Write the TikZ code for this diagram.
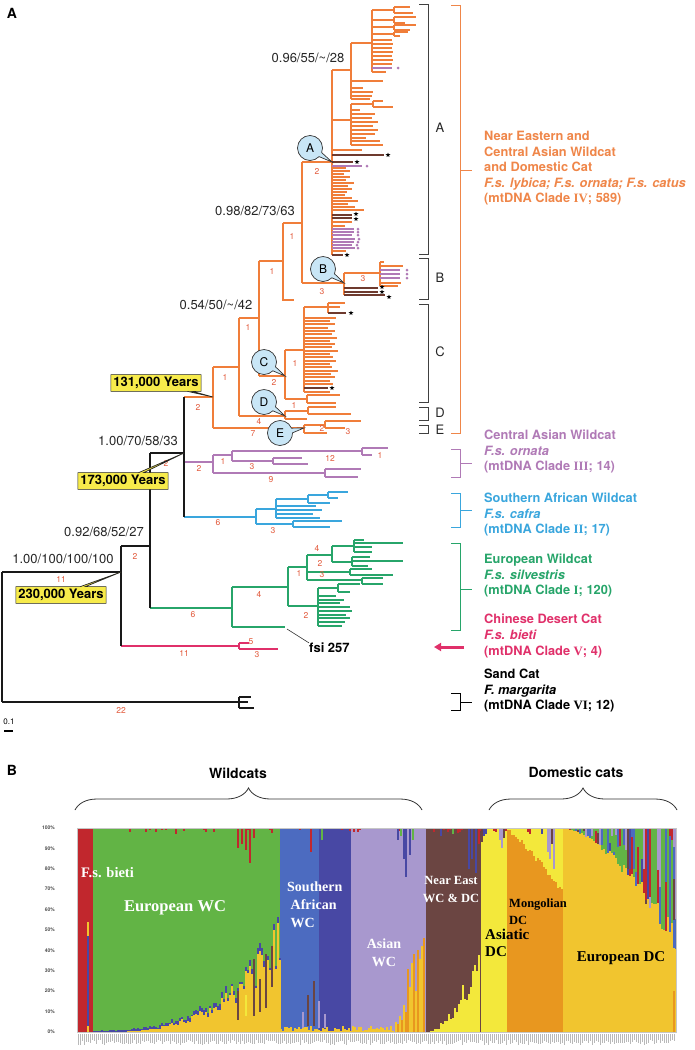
\documentclass[tikz,border=0pt]{standalone}
\usepackage{fontspec}
\setmainfont{TeX Gyre Heros}
\newfontfamily\tnr{Liberation Serif}
\usetikzlibrary{shapes.callouts,decorations.pathreplacing,arrows.meta}
\definecolor{cOr}{HTML}{F07E3A}
\definecolor{cOrT}{HTML}{EF8649}
\definecolor{cPu}{HTML}{B07AB6}
\definecolor{cBl}{HTML}{3AA6DD}
\definecolor{cGr}{HTML}{27A56A}
\definecolor{cPk}{HTML}{E0306A}
\definecolor{cDk}{HTML}{6E3A2E}
\definecolor{cNum}{HTML}{E25A3C}
\definecolor{cCirc}{HTML}{C9E6F6}
\definecolor{cYbox}{HTML}{F7EB4B}
\definecolor{cRed}{HTML}{C1272D}
\definecolor{cGrn}{HTML}{62B445}
\definecolor{cLB}{HTML}{4C6BC0}
\definecolor{cDB}{HTML}{4848A4}
\definecolor{cLav}{HTML}{A898CE}
\definecolor{cBrn}{HTML}{6B4542}
\definecolor{cLY}{HTML}{F3E83B}
\definecolor{cOrg}{HTML}{E8971F}
\definecolor{cY}{HTML}{F1C52F}
\newcommand\bseg[4]{\pgfmathsetmacro\yaa{1032-2.04*(#2)}\pgfmathsetmacro\ybb{1032-2.04*(#3)}\fill[fill=#4] (#1,\yaa) rectangle ({#1+2.05},\ybb);}
\newcommand\stard[2]{\fill[black, shift={(#1,#2)}] (270:2.5) -- (306:1) -- (342:2.5) -- (18:1) -- (54:2.5) -- (90:1) -- (126:2.5) -- (162:1) -- (198:2.5) -- (234:1) -- cycle;}
\pgfmathdeclarerandomlist{topc}{{cGrn}{cGrn}{cGrn}{cLB}{cDB}{cRed}{cLav}{cBrn}{cGrn}}
\tikzset{
  or/.style={draw=cOr, line width=1.1pt},
  pu/.style={draw=cPu, line width=1.1pt},
  bl/.style={draw=cBl, line width=1.1pt},
  gr/.style={draw=cGr, line width=1.1pt},
  pk/.style={draw=cPk, line width=1.1pt},
  dk/.style={draw=cDk, line width=1.1pt},
  bk/.style={draw=black!90, line width=1.8pt},
  brk/.style={draw=black!75, line width=1pt},
  num/.style={text=cNum, font=\fontsize{8.5}{8.5}\selectfont, inner sep=0},
  sup/.style={text=black!85, font=\fontsize{13}{13}\selectfont, inner sep=0},
  lbl/.style={text=black!85, font=\fontsize{13}{13}\selectfont, inner sep=0},
  circ/.style={ellipse callout, fill=cCirc, draw=black!80, line width=0.7pt, minimum width=25pt, minimum height=25pt, inner sep=0, callout pointer arc=22, font=\fontsize{12}{12}\selectfont},
  yrs/.style={rectangle callout, fill=cYbox, draw=black!85, line width=0.7pt, callout pointer width=5pt, inner sep=2.5pt, font=\bfseries\fontsize{13}{13}\selectfont},
  txt/.style={anchor=north west, align=left, inner sep=0, font=\bfseries\fontsize{12.8}{15.5}\selectfont},
  chl/.style={inner sep=0, align=left, font=\tnr\bfseries},
  ax/.style={inner sep=0, text=black!70, font=\bfseries\fontsize{5}{5}\selectfont}
}
\begin{document}
\begin{tikzpicture}[x=1pt,y=-1pt]
\useasboundingbox (0,0) rectangle (694,1050);
\pgfmathsetseed{4}
% ---------- panel letters
\node[inner sep=0, font=\bfseries\fontsize{14}{14}\selectfont] (pA) at (12,13) {A};
\node[inner sep=0, font=\bfseries\fontsize{14}{14}\selectfont] (pB) at (12,770) {B};
% ---------- key coordinates
\coordinate (n131) at (213,397);
\coordinate (n173) at (184,453);
\coordinate (n230) at (121,572);
\coordinate (nA) at (332,162);
\coordinate (nB) at (344,283);
\coordinate (nC) at (285,376);
\coordinate (nD) at (285,416);
\coordinate (nE) at (304,428);
% ---------- orange backbone
\draw[or] (184,397) -- (213,397);
\draw[or] (213,367) -- (213,428);
\draw[or] (213,367) -- (239,367);
\draw[or] (239,318) -- (239,416);
\draw[or] (239,318) -- (259,318);
\draw[or] (259,261) -- (259,376);
\draw[or] (259,261) -- (283,261);
\draw[or] (283,223) -- (283,300) -- (294,300);
\draw[or] (283,223) -- (302,223);
\draw[or] (302,162) -- (302,283);
\draw[or] (302,162) -- (332,162);
\draw[or] (302,283) -- (344,283);
\draw[or] (259,376) -- (285,376);
\draw[or] (239,416) -- (285,416);
\draw[or] (213,428) -- (304,428);
% clade A
\draw[or] (332,70) -- (332,255);
\draw[or] (332,70) -- (351,70);
\draw[or] (351,43) -- (351,99);
\draw[or] (351,43) -- (372,43);
\draw[or] (372,10) -- (372,72);
\foreach \yy/\aa/\bb/\la/\lb in {10/7/13/410/413, 20/17/23/416/405, 27/25/30/416/410, 34/32/36/408/400}{
  \draw[or] (372,\yy) -- (394,\yy);
  \draw[or] (394,\aa) -- (394,\bb);
  \draw[or] (394,\aa) -- (\la,\aa);
  \draw[or] (394,\bb) -- (\lb,\bb);
}
\foreach \yy/\ll in {40/392,44/393,48/392,52/393,56/392,60/393,64/392,72/386}{\draw[or] (372,\yy) -- (\ll,\yy);}
\draw[pu] (372,68) -- (392,68);
\foreach \yy/\ll in {81/383,88/363,92/373,96/372,99/370}{\draw[or] (351,\yy) -- (\ll,\yy);}
\draw[or] (332,120) -- (351,120);
\draw[or] (351,104) -- (351,145);
\draw[or] (351,104) -- (373,104);
\draw[or] (373,101) -- (373,107);
\draw[or] (373,101) -- (383,101);
\draw[or] (373,107) -- (393,107);
\foreach \yy/\ll in {110/360,114/375,118/372,122/378,126/373,130/378,134/375,138/366,141/380,145/383}{\draw[or] (351,\yy) -- (\ll,\yy);}
\draw[or] (332,150) -- (362,150);
\draw[dk] (332,155) -- (384,155);
\foreach \yy/\ll in {168/346,171/350,174/344,177/350,180/346,183/354,186/348,189/352,192/347,195/345,198/352,201/358,204/348,207/355,210/364,222/352,226/345,251/346}{\draw[or] (332,\yy) -- (\ll,\yy);}
\foreach \yy/\ll in {162/353,215/352,218/352,255/343}{\draw[dk] (332,\yy) -- (\ll,\yy);}
\foreach \yy/\ll in {166/362,229/354,232/354,235/352,239/355,242/354,245/352,248/355}{\draw[pu] (332,\yy) -- (\ll,\yy);}
\foreach \xx/\yy in {357/162,388/155,356/214,356/219,347/255}{\stard{\xx}{\yy}}
\foreach \xx/\yy in {398/68,367/166,358/229,358/232,358/235,359/239,358/242,357/245,358/248}{\fill[cPu] (\xx,\yy) circle[radius=1.5pt];}
% clade B
\draw[or] (344,273) -- (344,295);
\draw[or] (344,273) -- (380,273);
\draw[or] (380,262) -- (380,286);
\draw[or] (380,262) -- (384,262);
\foreach \yy/\ll in {266/403,283/401,286/398}{\draw[or] (380,\yy) -- (\ll,\yy);}
\foreach \yy in {270,274,278}{\draw[pu] (380,\yy) -- (400,\yy); \fill[cPu] (407,\yy) circle[radius=1.5pt];}
\draw[dk] (344,288) -- (378,288);
\draw[dk] (344,292) -- (378,292);
\draw[dk] (344,295) -- (385,295);
\foreach \xx/\yy in {382/287,382/292,389/297}{\stard{\xx}{\yy}}
% clade C
\draw[or] (285,350) -- (285,399);
\draw[or] (285,350) -- (304,350);
\draw[or] (304,307) -- (304,392);
\draw[or] (304,307) -- (328,307);
\draw[or] (328,303) -- (328,313);
\draw[or] (328,303) -- (345,303);
\draw[or] (328,307) -- (340,307);
\draw[dk] (328,313) -- (346,313);
\stard{351}{313}
\foreach \yy/\ll in {318/336,321/330,324/335,328/328,331/335,334/332,338/337,341/330,344/335,347/332,351/338,354/330,357/333,361/336,364/330,367/332,371/338,374/331,377/335,381/330,384/333,392/330}{\draw[or] (304,\yy) -- (\ll,\yy);}
\draw[dk] (304,388) -- (328,388);
\stard{332}{388}
\draw[or] (285,399) -- (307,399);
\draw[or] (307,395) -- (307,403);
\draw[or] (307,395) -- (340,395);
\draw[or] (307,403) -- (336,403);
% clade D
\draw[or] (285,411) -- (285,419);
\draw[or] (285,411) -- (308,411);
\draw[or] (308,407) -- (308,414);
\draw[or] (308,407) -- (336,407);
\draw[or] (308,414) -- (351,414);
\draw[or] (285,419) -- (307,419);
% clade E
\draw[or] (304,425) -- (304,433);
\draw[or] (304,425) -- (325,425);
\draw[or] (325,421) -- (325,428);
\draw[or] (325,421) -- (361,421);
\draw[or] (325,428) -- (345,428);
\draw[or] (304,433) -- (327,433);
% ---------- purple clade
\draw[pu] (184,462) -- (213,462);
\draw[pu] (213,455) -- (213,473);
\draw[pu] (213,455) -- (232,455);
\draw[pu] (232,451) -- (232,461);
\draw[pu] (232,451) -- (362,451);
\draw[pu] (362,448) -- (362,455);
\draw[pu] (362,448) -- (388,448);
\draw[pu] (362,455) -- (372,455);
\draw[pu] (232,461) -- (273,461);
\draw[pu] (273,458) -- (273,464);
\draw[pu] (273,458) -- (302,458);
\draw[pu] (273,464) -- (308,464);
\draw[pu] (213,473) -- (325,473);
\draw[pu] (325,469) -- (325,477);
\draw[pu] (325,469) -- (361,469);
\draw[pu] (325,477) -- (358,477);
% ---------- blue clade
\draw[bl] (184,517) -- (256,517);
\draw[bl] (256,509) -- (256,524);
\draw[bl] (256,509) -- (276,509);
\draw[bl] (276,499) -- (276,518);
\draw[bl] (276,499) -- (308,499);
\draw[bl] (308,495) -- (308,503);
\draw[bl] (308,495) -- (328,495);
\draw[bl] (328,492) -- (328,498);
\draw[bl] (328,492) -- (348,492);
\draw[bl] (328,498) -- (338,498);
\draw[bl] (308,503) -- (330,503);
\foreach \yy/\ll in {506/316,510/322,514/313,518/320}{\draw[bl] (276,\yy) -- (\ll,\yy);}
\draw[bl] (256,524) -- (293,524);
\draw[bl] (293,521) -- (293,527);
\draw[bl] (293,521) -- (342,521);
\draw[bl] (293,527) -- (330,527);
% ---------- green clade
\draw[gr] (150,608) -- (232,608);
\draw[gr] (232,587) -- (232,627);
\draw[gr] (232,587) -- (288,587);
\draw[gr] (288,567) -- (288,606);
\draw[gr] (288,567) -- (307,567);
\draw[gr] (307,555) -- (307,580);
\draw[gr] (307,555) -- (332,555);
\draw[gr] (332,546) -- (332,562);
\draw[gr] (332,546) -- (354,546);
\draw[gr] (354,540) -- (354,552);
\foreach \yy/\ll in {540/364,543/403,547/372,552/372}{\draw[gr] (354,\yy) -- (\ll,\yy);}
\draw[gr] (332,562) -- (352,562);
\draw[gr] (352,557) -- (352,566);
\foreach \yy/\ll in {557/370,561/403,566/368}{\draw[gr] (352,\yy) -- (\ll,\yy);}
\draw[gr] (307,572) -- (350,572);
\draw[gr] (350,569) -- (350,575);
\draw[gr] (350,569) -- (372,569);
\draw[gr] (350,575) -- (393,575);
\draw[gr] (307,580) -- (362,580);
\draw[gr] (362,578) -- (362,584);
\draw[gr] (362,578) -- (383,578);
\draw[gr] (362,584) -- (383,584);
\draw[gr] (288,606) -- (318,606);
\draw[gr] (318,588) -- (318,626);
\draw[gr] (318,588) -- (338,588);
\draw[gr] (338,584) -- (338,592);
\draw[gr] (338,584) -- (360,584);
\draw[gr] (338,592) -- (350,592);
\foreach \yy/\ll in {596/336,600/344,603/340,607/350,611/352,615/346,618/350,622/345,626/342}{\draw[gr] (318,\yy) -- (\ll,\yy);}
\draw[gr] (232,627) -- (285,627);
\coordinate (fsiT) at (287,629);
\node[inner sep=0, anchor=west, font=\bfseries\fontsize{13}{13}\selectfont] (fsi) at (309,648) {fsi 257};
\draw[black!80, line width=0.6pt] (fsiT) -- (fsi.north west);
% ---------- pink clade
\draw[pk] (121,646) -- (239,646);
\draw[pk] (239,643) -- (239,649);
\draw[pk] (239,643) -- (249,643);
\draw[pk] (239,649) -- (278,649);
% ---------- black backbone
\draw[bk] (184,397) -- (184,517);
\draw[bk] (150,453) -- (184,453);
\draw[bk] (150,453) -- (150,608);
\draw[bk] (121,546) -- (150,546);
\draw[bk] (121,546) -- (121,646);
\draw[bk] (2,572) -- (121,572);
\draw[bk] (2,572) -- (2,702);
\draw[bk] (2,702) -- (239,702);
\draw[bk] (239,697) -- (239,708);
\draw[bk] (239,697) -- (251,697);
\draw[bk] (239,702) -- (248,702);
\draw[bk] (239,708) -- (254,708);
% ---------- support values
\node[sup] (s1) at (308,58) {0.96/55/\textasciitilde/28};
\node[sup] (s2) at (255,211) {0.98/82/73/63};
\node[sup] (s3) at (216,305) {0.54/50/\textasciitilde/42};
\node[sup] (s4) at (138,441) {1.00/70/58/33};
\node[sup] (s5) at (104,532) {0.92/68/52/27};
\node[sup] (s6) at (63,559) {1.00/100/100/100};
% ---------- branch numbers
\foreach \xx/\yy/\tx [count=\i] in {317/171/2, 322/292/3, 363/279/3, 292/236/1, 272/271/1, 248/327/1, 274/382/2, 295/363/1, 294/405/1, 259/421/4, 225/377/1, 253/434/7, 322/428/2, 348/432/3, 198/407/2, 166/463/2, 199/468/2, 223/461/1, 330/458/12, 380/455/1, 252/467/3, 271/480/9, 218/523/6, 273/531/3, 135/556/2, 193/615/6, 259/594/4, 299/573/1, 317/548/4, 320/563/2, 322/575/3, 306/615/2, 184/653/11, 251/642/5, 257/655/3, 61/579/11, 121/710/22}{\node[num] (bn\i) at (\xx,\yy) {\tx};}
% ---------- callouts
\node[circ, callout absolute pointer={(nA)}] (cA) at (310,148) {A};
\node[circ, callout absolute pointer={(nB)}] (cB) at (323,269) {B};
\node[circ, callout absolute pointer={(nC)}] (cC) at (264,362) {C};
\node[circ, callout absolute pointer={(nD)}] (cD) at (264,402) {D};
\node[circ, callout absolute pointer={(nE)}] (cE) at (280,433) {E};
\node[yrs, callout absolute pointer={(n131)}] (y131) at (156,383) {131,000 Years};
\node[yrs, callout absolute pointer={(n173)}] (y173) at (123,481) {173,000 Years};
\node[yrs, callout absolute pointer={(n230)}] (y230) at (61,595) {230,000 Years};
% ---------- scale bar
\node[inner sep=0, font=\fontsize{8}{8}\selectfont] (sbl) at (9,722) {0.1};
\coordinate (sb1) at (4,731); \coordinate (sb2) at (13,731);
\draw[line width=1.3pt] (sb1) -- (sb2);
% ---------- subclade brackets
\foreach \ya/\yb/\tx/\yl in {4/254/A/128, 258/299/B/278, 304/402/C/352, 407/420/D/413, 425/433/E/430}{
  \draw[brk] (419,\ya) -- (428,\ya) -- (428,\yb) -- (419,\yb);
  \node[lbl] (L\tx) at (440,\yl) {\tx};
}
% ---------- clade brackets
\foreach \ya/\yb/\ym/\cc in {5/433/170/cOrT, 449/477/463/cPu, 493/527/510/cBl, 543/630/589/cGr, 693/710/702/black}{
  \draw[draw=\cc, line width=1pt] (451,\ya) -- (460,\ya) -- (460,\yb) -- (451,\yb);
  \draw[draw=\cc, line width=1pt] (460,\ym) -- (472,\ym);
}
\node[txt, text=cOrT] (tOr) at (484,131) {Near Eastern and\\Central Asian Wildcat\\and Domestic Cat\\\textit{F.s. lybica; F.s. ornata; F.s. catus}\\(mtDNA Clade {\tnr IV}; 589)};
\node[txt, text=cPu] (tPu) at (484,430) {Central Asian Wildcat\\\textit{F.s. ornata}\\(mtDNA Clade {\tnr III}; 14)};
\node[txt, text=cBl] (tBl) at (484,493) {Southern African Wildcat\\\textit{F.s. cafra}\\(mtDNA Clade {\tnr II}; 17)};
\node[txt, text=cGr] (tGr) at (484,554) {European Wildcat\\\textit{F.s. silvestris}\\(mtDNA Clade {\tnr I}; 120)};
\node[txt, text=cPk, font=\bfseries\fontsize{12.8}{16}\selectfont] (tPk) at (484,614) {Chinese Desert Cat\\\textit{F.s. bieti}\\(mtDNA Clade {\tnr V}; 4)};
\node[txt, text=black] (tBk) at (484,669) {Sand Cat\\\textit{F. margarita}\\(mtDNA Clade {\tnr VI}; 12)};
\coordinate (arS) at (464,647); \coordinate (arE) at (434,647);
\draw[cPk, line width=3pt, -{Triangle[length=7pt,width=8pt]}] (arS) -- (arE);
% ================= PANEL B
\coordinate (bw1) at (75,810); \coordinate (bw2) at (422,810);
\coordinate (bd1) at (489,810); \coordinate (bd2) at (677,810);
\draw[decorate, decoration={brace, amplitude=22pt}, line width=0.8pt, black!80] (bw1) -- (bw2);
\draw[decorate, decoration={brace, amplitude=22pt}, line width=0.8pt, black!80] (bd1) -- (bd2);
\node[inner sep=0, font=\bfseries\fontsize{14}{14}\selectfont] (tW) at (238,773) {Wildcats};
\node[inner sep=0, font=\bfseries\fontsize{14}{14}\selectfont] (tD) at (576,772) {Domestic cats};
% backgrounds
\fill[cRed] (77,828) rectangle (93,1032);
\fill[cGrn] (93,828) rectangle (280,1032);
\fill[cLB] (280,828) rectangle (319,1032);
\fill[cDB] (319,828) rectangle (351,1032);
\fill[cLav] (351,828) rectangle (426,1032);
\fill[cBrn] (426,828) rectangle (481,1032);
\fill[cLY] (481,828) rectangle (507,1032);
\fill[cOrg] (507,828) rectangle (563,1032);
\fill[cY] (563,828) rectangle (676,1032);
% European WC admixture
\foreach \x in {93,95,...,279}{
  \pgfmathsetmacro\tq{(\x-93)/187+0.001}
  \pgfmathsetmacro\hy{46*\tq^3*(0.7+0.6*rnd)}
  \pgfmathsetmacro\hb{\hy+0.6+4*\tq*rnd}
  \bseg{\x}{0}{\hb}{cDB}
  \bseg{\x}{0}{\hy}{cY}
}
% S African / Asian small bottoms
\foreach \x in {280,282,...,393}{
  \pgfmathsetmacro\hy{0.3+2.5*rnd}
  \bseg{\x}{0}{\hy}{cY}
}
% Near East
\foreach \x in {426,428,...,479}{
  \pgfmathsetmacro\tq{(\x-426)/55+0.001}
  \pgfmathsetmacro\hy{38*\tq^1.8*(0.6+0.8*rnd)}
  \bseg{\x}{0}{\hy}{cLY}
}
% Mongolian
\foreach \x in {507,509,...,561}{
  \pgfmathsetmacro\tq{(\x-507)/56+0.001}
  \pgfmathsetmacro\hO{100-30*\tq^1.2-3*rnd}
  \bseg{\x}{\hO}{100}{cLY}
}
% European DC
\foreach \x in {563,565,...,675}{
  \pgfmathsetmacro\tq{(\x-563)/113+0.001}
  \pgfmathsetmacro\hY{100-55*\tq^1.6*(0.85+0.3*rnd)}
  \pgfmathsetmacro\mq{\hY+(100-\hY)*rnd}
  \pgfmathrandomitem{\ca}{topc}
  \pgfmathrandomitem{\cb}{topc}
  \bseg{\x}{\hY}{\mq}{\ca}
  \bseg{\x}{\mq}{100}{\cb}
}
% red ticks at the top
\foreach \x in {93,95,...,561}{
  \pgfmathsetmacro\hr{max(0,9*rnd-6.5)}
  \bseg{\x}{100-\hr}{100}{cRed}
}
% explicit bars
\foreach \x/\a/\b/\c in {87/0/3/cY, 87/3/47/cDB, 87/47/54/cY,
  237/90/100/cRed, 241/92/100/cRed, 245/89/100/cRed, 249/83/100/cRed, 253/95/100/cRed, 175/97/100/cRed,
  237/6/20/cBrn, 253/8/36/cBrn, 265/12/38/cBrn, 271/22/42/cBrn, 259/10/26/cBrn, 245/8/18/cLY,
  310/88/100/cRed, 313/3/25/cBrn, 307/3/18/cBrn, 302/2/10/cLav, 318/2/15/cLav, 324/2/9/cLav, 321/94/100/cGrn,
  395/0/5/cY, 397/0/4/cOrg, 399/0/8/cY, 401/0/6/cOrg, 403/0/13/cY, 405/0/10/cOrg, 407/0/31/cOrg, 409/0/22/cY,
  411/0/34/cY, 413/0/38/cOrg, 415/0/20/cY, 417/0/40/cOrg, 419/0/36/cY, 421/0/42/cY, 423/0/46/cOrg,
  403/85/100/cDB, 405/76/100/cDB, 409/87/100/cDB, 397/94/100/cDB, 400/96/100/cGrn, 412/94/100/cGrn,
  468/80/100/cDB, 471/85/100/cDB, 475/78/100/cDB, 478/92/100/cRed, 440/96/100/cDB, 452/97/100/cGrn,
  481/93/100/cBrn, 483/96/100/cDB, 485/97/100/cDB, 499/94/100/cLav, 501/90/100/cLav, 503/95/100/cBrn,
  547/88/100/cLav, 549/85/100/cLav, 551/92/100/cBrn, 553/80/100/cLav, 541/97/100/cDB, 529/97/100/cRed,
  673/0/20/cOrg, 673/55/75/cBrn}{\bseg{\x}{\a}{\b}{\c}}
\draw[gray!45, line width=0.4pt] (77,828) rectangle (676,1032);
% sample label strip
\foreach \x in {78,80,...,674}{
  \pgfmathsetmacro\lq{1040+5*rnd}
  \draw[gray!55, line width=0.6pt] (\x,1034) -- (\x,\lq);
}
% y axis labels
\foreach \p [count=\i] in {100,90,...,0}{\node[ax, anchor=east] (ax\i) at (55,{1032-2.04*\p}) {\p\%};}
% region labels
\node[chl, text=white, anchor=west, font=\tnr\bfseries\fontsize{14.5}{14.5}\selectfont] (lBi) at (81,873) {F.s. bieti};
\node[chl, text=white, font=\tnr\bfseries\fontsize{16.5}{16.5}\selectfont] (lEW) at (175,908) {European WC};
\node[chl, text=white, anchor=north west, font=\tnr\bfseries\fontsize{14}{18}\selectfont] (lSA) at (287,882) {Southern\\\ African\\\ WC};
\node[chl, text=white, align=center, anchor=north, font=\tnr\bfseries\fontsize{14}{18}\selectfont] (lAs) at (384,939) {Asian\\WC};
\node[chl, text=white, align=center, anchor=north, font=\tnr\bfseries\fontsize{12.5}{18}\selectfont] (lNE) at (451,876) {Near East\\WC \& DC};
\node[chl, text=black, anchor=north west, font=\tnr\bfseries\fontsize{12.5}{17}\selectfont] (lMo) at (509,899) {Mongolian\\DC};
\node[chl, text=black, anchor=north west, font=\tnr\bfseries\fontsize{15}{17}\selectfont] (lAD) at (485,929) {Asiatic\\DC};
\node[chl, text=black, font=\tnr\bfseries\fontsize{15}{15}\selectfont] (lED) at (621,958) {European DC};
\end{tikzpicture}
\end{document}
